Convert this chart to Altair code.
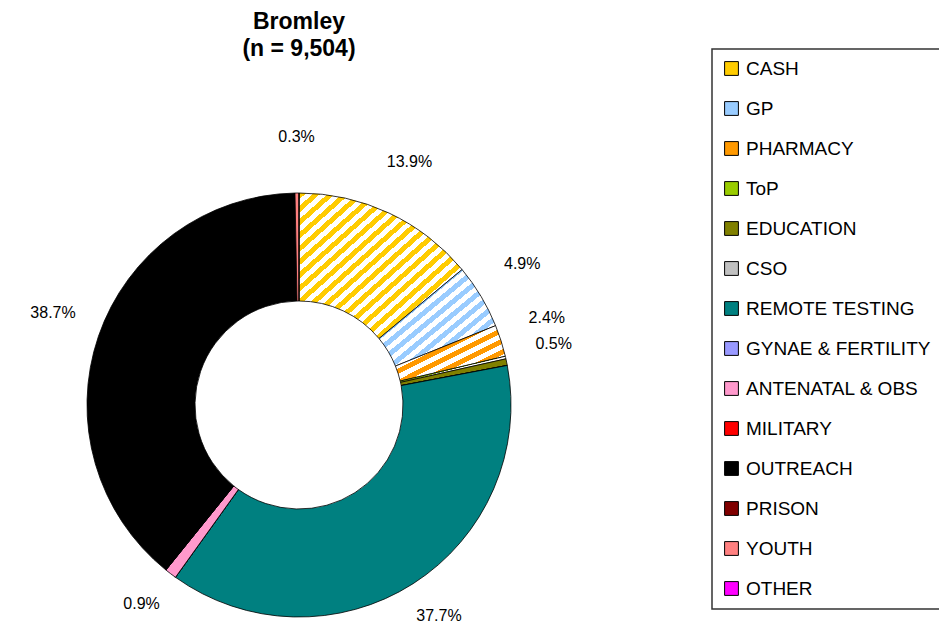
import altair as alt
import pandas as pd

# ---- data ----
categories = ["CASH", "GP", "PHARMACY", "ToP", "EDUCATION", "CSO", "REMOTE TESTING",
              "GYNAE & FERTILITY", "ANTENATAL & OBS", "MILITARY", "OUTREACH",
              "PRISON", "YOUTH", "OTHER"]
percentages = [13.9, 4.9, 2.4, 0.2, 0.5, 0.0, 37.7, 0.0, 0.9, 0.0, 38.7, 0.0, 0.3, 0.0]
colors = ["#FFCC00", "#99CCFF", "#FF9900", "#99CC00", "#808000", "#C0C0C0", "#008080",
          "#9999FF", "#FF99CC", "#FF0000", "#000000", "#800000", "#FF8080", "#FF00FF"]
hatched = {"CASH": 22, "GP": 15, "PHARMACY": 10, "ToP": 3}  # stripe counts (style)

df = pd.DataFrame({
    "cat": categories,
    "v": percentages,
    "idx": list(range(len(categories))),
})


def stripes(color, n):
    stops = []
    for i in range(n):
        a = i / n
        b = (i + 0.5) / n
        c = (i + 1) / n
        stops += [
            {"offset": a, "color": color},
            {"offset": b, "color": color},
            {"offset": b, "color": "#FFFFFF"},
            {"offset": c, "color": "#FFFFFF"},
        ]
    return {"gradient": "linear", "x1": 0, "y1": 0, "x2": 1, "y2": 1, "stops": stops}


cond = []
for name, n in hatched.items():
    col = colors[categories.index(name)]
    cond.append({"test": f"datum.cat === '{name}'", "value": stripes(col, n)})

base = alt.Chart(df).transform_calculate(
    label="datum.v >= 0.3 ? format(datum.v, '.1f') + '%' : ''"
)

arcs = base.mark_arc(outerRadius=212, innerRadius=104, stroke="#000000",
                     strokeWidth=0.8).encode(
    theta=alt.Theta("v:Q", stack=True),
    order=alt.Order("idx:Q"),
    fill=alt.Fill(
        "cat:N",
        condition=cond,
        scale=alt.Scale(domain=categories, range=colors),
        sort=categories,
        legend=alt.Legend(
            title=None,
            orient="none",
            legendX=704,
            legendY=-137,
            symbolType="square",
            symbolSize=190,
            symbolStrokeColor="#000000",
            symbolStrokeWidth=1,
            labelFont="Liberation Sans",
            labelFontSize=19,
            labelColor="#000000",
            labelLimit=400,
            labelOffset=5,
            rowPadding=20,
            padding=10,
            strokeColor="#333333",
            fillColor="#FFFFFF",
        ),
    ),
)

labels = base.mark_text(radius=260, dy=-8, font="Liberation Sans", fontSize=16,
                        color="#000000").encode(
    theta=alt.Theta("v:Q", stack=True),
    order=alt.Order("idx:Q"),
    text="label:N",
)

chart = alt.layer(arcs, labels).properties(
    width=582,
    height=438,
    autosize=alt.AutoSizeParams(type="none"),
    padding={"left": 0, "top": 178, "right": 349, "bottom": 0},
    title=alt.TitleParams(
        text=["Bromley", "(n = 9,504)"],
        font="Liberation Sans",
        fontSize=23,
        fontWeight="bold",
        color="#000000",
        anchor="middle",
        lineHeight=27,
        offset=-13,
    ),
).configure_view(strokeWidth=0).configure_legend(strokeWidth=1.5)

chart.save("out.html", embed_options={"renderer": "svg", "actions": False})
